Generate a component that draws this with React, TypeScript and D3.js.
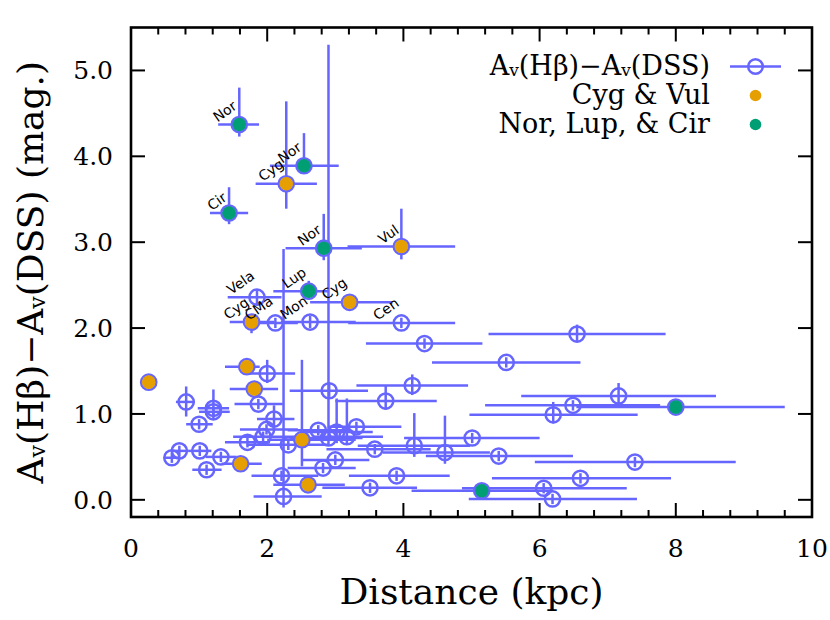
import React from "react";
import * as d3 from "d3";

// ---- data ----
const dist = [1.59, 2.54, 2.28, 1.44, 2.83, 3.97, 1.85, 2.61, 3.21, 1.77, 2.12, 2.63, 3.97,
  6.55, 4.31, 5.51, 4.13, 3.74, 7.16, 6.49, 8.0, 6.2, 3.31, 5.01, 3.58, 4.16, 4.61, 5.4, 7.4, 3.9,
  6.6, 3.51, 5.15, 6.06, 6.19, 0.26, 1.7, 2.0, 1.81, 2.91, 1.87, 0.81, 1.21, 1.21, 1.0, 2.1, 1.99,
  1.94, 2.51, 1.71, 2.31, 2.75, 2.9, 3.02, 3.17, 3.0, 2.82, 0.71, 0.6, 1.01, 1.32, 1.11, 1.61, 2.21,
  2.6, 2.24];
const avDiff = [4.37, 3.89, 3.68, 3.34, 2.93, 2.95, 2.36, 2.43, 2.3, 2.07, 2.06, 2.07, 2.06,
  1.93, 1.82, 1.6, 1.33, 1.15, 1.21, 1.1, 1.08, 0.99, 0.85, 0.72, 0.59, 0.63, 0.55, 0.51, 0.44, 0.28,
  0.25, 0.14, 0.105, 0.135, 0.01, 1.37, 1.55, 1.47, 1.29, 1.27, 1.115, 1.14, 1.065, 1.025, 0.88, 0.94,
  0.82, 0.735, 0.7, 0.67, 0.64, 0.81, 0.72, 0.79, 0.735, 0.465, 0.37, 0.57, 0.49, 0.57, 0.5, 0.35,
  0.42, 0.28, 0.175, 0.04];
const distErrMinus = [0.31, 0.5, 0.45, 0.28, 0.56, 0.79, 0.43, 0.52, 0.58, 0.32, 0.32, 0.43, 0.78,
  1.3, 0.86, 1.09, 0.82, 0.74, 1.43, 1.29, 1.46, 1.23, 0.42, 1.0, 0.71, 0.83, 0.91, 1.07, 1.47, 0.7,
  1.3, 0.7, 1.03, 1.2, 1.23, 0, 0.32, 0.28, 0.36, 0.58, 0.35, 0.15, 0.23, 0.21, 0.19, 0.25, 0.39,
  0.44, 0.51, 0.33, 0.61, 0.45, 0.5, 0.52, 0.47, 0.5, 0.52, 0.11, 0.1, 0.16, 0.22, 0.21, 0.28, 0.44,
  0.51, 0.44];
const distErrPlus = [0.29, 0.51, 0.45, 0.28, 0.56, 0.79, 0.36, 0.29, 0.63, 0.33, 0.33, 0.67, 0.79,
  1.3, 0.85, 1.09, 0.82, 0.75, 1.43, 1.28, 1.6, 1.24, 0.66, 0.99, 0.82, 0.82, 0.66, 1.09, 1.48, 0.78,
  1.33, 0.69, 1.05, 1.22, 1.24, 0, 0.19, 0.41, 0.35, 0.57, 0.36, 0.13, 0.23, 0.24, 0.2, 0.3, 0.46,
  0.61, 0.79, 0.33, 0.59, 0.45, 0.5, 0.53, 0.53, 0.5, 0.48, 0.14, 0.1, 0.17, 0.23, 0.22, 0.31, 0.54,
  0.54, 0.56];
const avErrMinus = [0.14, 0.09, 0.29, 0.13, 0.14, 0.15, 0.08, 0.1, 0.06, 0.13, 0.06, 0.07, 0.06,
  0.08, 0.06, 0.06, 0.11, 0.1, 0.1, 0.06, 0.06, 0.1, 0.06, 0.06, 0.06, 0.13, 0.13, 0.06, 0.06, 0.06,
  0.06, 0.06, 0.06, 0.06, 0.06, 0, 0.06, 0.11, 0.06, 0.07, 0.06, 0.17, 0.13, 0.06, 0.06, 0.13, 0.06,
  0.06, 0.31, 0.06, 0.06, 0.06, 0.08, 0.13, 0.075, 0.06, 0.06, 0.06, 0.06, 0.06, 0.06, 0.06, 0.06,
  0.06, 0.06, 0.13];
const avErrPlus = [0.43, 0.38, 0.96, 0.3, 0.4, 0.44, 0.08, 0.12, 0.06, 0.08, 0.06, 0.07, 0.06,
  0.11, 0.06, 0.06, 0.13, 0.18, 0.15, 0.06, 0.06, 0.15, 0.06, 0.06, 0.06, 0.38, 0.43, 0.06, 0.06, 0.06,
  0.06, 0.06, 0.06, 0.06, 0.06, 0, 0.06, 0.16, 0.06, 0.08, 0.06, 0.18, 0.22, 0.06, 0.06, 0.16, 0.06,
  0.06, 0.93, 0.06, 0.06, 0.06, 4.58, 0.39, 0.445, 0.06, 0.06, 0.06, 0.06, 0.06, 0.06, 0.06, 0.06,
  0.06, 0.06, 2.88];
// region group: "o" = other, "c" = Cyg & Vul, "n" = Nor, Lup & Cir
const region = ["n", "n", "c", "n", "n", "c", "o", "n", "c", "c", "o", "o", "o",
  "o", "o", "o", "o", "o", "o", "o", "n", "o", "o", "o", "o", "o", "o", "o", "o", "o",
  "o", "o", "n", "o", "o", "c", "c", "o", "c", "o", "o", "o", "o", "o", "o", "o", "o",
  "o", "c", "o", "o", "o", "o", "o", "o", "o", "o", "o", "o", "o", "o", "o", "c", "o",
  "c", "o"];
const pointLabels = ["Nor", "Nor", "Cyg", "Cir", "Nor", "Vul", "Vela", "Lup", "Cyg", "Cyg", "CMa", "Mon", "Cen"];

const xTicks = [0, 2, 4, 6, 8, 10];
const yTicks = [0, 1, 2, 3, 4, 5];
const legendLabels = ["Cyg & Vul", "Nor, Lup, & Cir"];

const BLUE = "#6666ff";
const ORANGE = "#E69F00";
const GREEN = "#009E73";
const SERIF = "'DejaVu Serif', serif";
const SANS = "'DejaVu Sans', sans-serif";

const L = 131, R = 812, T = 27.5, B = 517;

let measureCtx: CanvasRenderingContext2D | null = null;
function textWidth(s: string, font: string) {
  if (!measureCtx) measureCtx = document.createElement("canvas").getContext("2d");
  if (!measureCtx) return s.length * 8;
  measureCtx.font = font;
  return measureCtx.measureText(s).width;
}

export default function App() {
  const x = d3.scaleLinear().domain([0, 10]).range([L, R]);
  const y = d3.scaleLinear().domain([-0.2, 5.5]).range([B, T]);
  const xMinor = d3.range(0, 10.001, 0.4).filter((v) => Math.abs(v / 2 - Math.round(v / 2)) > 1e-6);

  const idx = dist.map((_, i) => i);
  const theta = (35 * Math.PI) / 180;
  const labFont = 14;

  return (
    <svg width={830} height={620} style={{ position: "absolute", left: 0, top: 0, background: "#fff" }}>
      {/* error bars */}
      <g stroke={BLUE} strokeWidth={2.5} fill="none">
        {idx.map((i) => (
          <g key={"e" + i}>
            <line x1={x(dist[i] - distErrMinus[i])} x2={x(dist[i] + distErrPlus[i])} y1={y(avDiff[i])} y2={y(avDiff[i])} />
            <line x1={x(dist[i])} x2={x(dist[i])} y1={y(avDiff[i] - avErrMinus[i])} y2={y(avDiff[i] + avErrPlus[i])} />
          </g>
        ))}
      </g>
      {/* open markers */}
      <g stroke={BLUE} strokeWidth={2.5} fill="none">
        {idx.map((i) => (
          <circle key={"m" + i} cx={x(dist[i])} cy={y(avDiff[i])} r={7.6} />
        ))}
      </g>
      {/* region markers */}
      <g>
        {idx.filter((i) => region[i] !== "o").map((i) => (
          <circle key={"r" + i} cx={x(dist[i])} cy={y(avDiff[i])} r={6.8} fill={region[i] === "c" ? ORANGE : GREEN} />
        ))}
      </g>
      {/* labels */}
      <g fontFamily={SANS} fontSize={labFont} fill="#000">
        {pointLabels.map((lab, i) => {
          const w = textWidth(lab, `${labFont}px 'DejaVu Sans'`);
          const dsc = 2.5;
          const px = x(dist[i]);
          const py = y(avDiff[i]);
          const sx = px - w * Math.cos(theta) - dsc * Math.sin(theta);
          const sy = py - dsc * Math.cos(theta);
          return (
            <text key={"l" + i} x={sx} y={sy} transform={`rotate(-35 ${sx} ${sy})`}>{lab}</text>
          );
        })}
      </g>
      {/* frame */}
      <rect x={L} y={T} width={R - L} height={B - T} fill="none" stroke="#000" strokeWidth={2.6} />
      {/* ticks */}
      <g stroke="#000" strokeWidth={2}>
        {xTicks.map((t) => (
          <g key={"xt" + t}>
            <line x1={x(t)} x2={x(t)} y1={B} y2={B - 14} />
            <line x1={x(t)} x2={x(t)} y1={T} y2={T + 14} />
          </g>
        ))}
        {xMinor.map((t, k) => (
          <g key={"xm" + k}>
            <line x1={x(t)} x2={x(t)} y1={B} y2={B - 7} />
            <line x1={x(t)} x2={x(t)} y1={T} y2={T + 7} />
          </g>
        ))}
        {yTicks.map((t) => (
          <g key={"yt" + t}>
            <line x1={L} x2={L + 14} y1={y(t)} y2={y(t)} />
            <line x1={R} x2={R - 14} y1={y(t)} y2={y(t)} />
          </g>
        ))}
      </g>
      <g fontFamily={SERIF} fontSize={25} fill="#000">
        {xTicks.map((t) => (
          <text key={"xl" + t} x={x(t)} y={557} textAnchor="middle">{t}</text>
        ))}
        {yTicks.map((t) => (
          <text key={"yl" + t} x={113} y={y(t)} dy="0.36em" textAnchor="end">{t.toFixed(1)}</text>
        ))}
      </g>
      {/* axis titles */}
      <text x={(L + R) / 2} y={604} textAnchor="middle" fontFamily={SERIF} fontSize={36}>Distance (kpc)</text>
      <text transform={`translate(43 ${(T + B) / 2}) rotate(-90)`} textAnchor="middle" fontFamily={SERIF} fontSize={36}>
        A<tspan fontSize={22} dy={2}>v</tspan><tspan dy={-2}>(Hβ)−A</tspan><tspan fontSize={22} dy={2}>v</tspan><tspan dy={-2}>(DSS) (mag.)</tspan>
      </text>
      {/* legend */}
      <g fontFamily={SERIF} fontSize={27} fill="#000" textAnchor="end">
        <text x={710} y={75}>
          A<tspan fontSize={17} dy={1}>v</tspan><tspan dy={-1}>(Hβ)−A</tspan><tspan fontSize={17} dy={1}>v</tspan><tspan dy={-1}>(DSS)</tspan>
        </text>
        <text x={710} y={104}>{legendLabels[0]}</text>
        <text x={710} y={133}>{legendLabels[1]}</text>
      </g>
      <line x1={730} x2={781} y1={66.5} y2={66.5} stroke={BLUE} strokeWidth={2.5} />
      <circle cx={755.5} cy={66.5} r={7.3} fill="none" stroke={BLUE} strokeWidth={2.5} />
      <circle cx={755.5} cy={95.5} r={5.8} fill={ORANGE} />
      <circle cx={755.5} cy={124.5} r={5.8} fill={GREEN} />
    </svg>
  );
}
